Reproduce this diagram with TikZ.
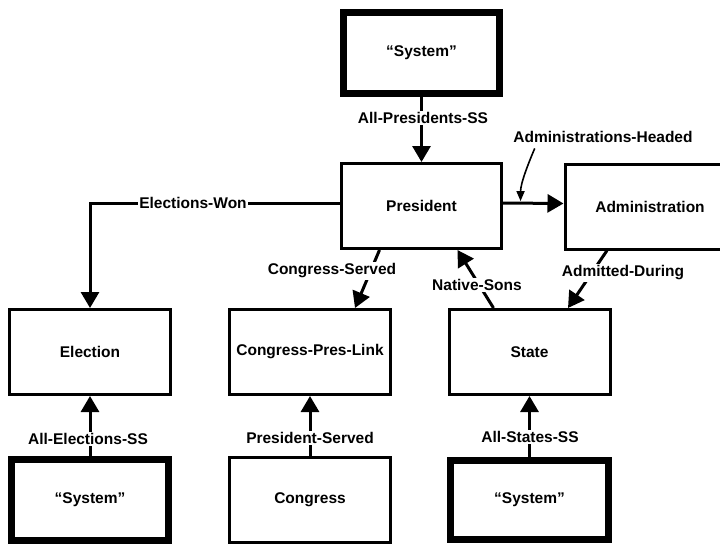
\documentclass[tikz,border=0pt]{standalone}
\usepackage{fontspec}
\setmainfont{Liberation Sans}
\usetikzlibrary{arrows.meta,calc}
\tikzset{
  box/.style={draw, line width=3pt, minimum width=161pt, minimum height=85pt, inner sep=0pt, font=\bfseries\fontsize{15.5}{19}\selectfont},
  sysbox/.style={box, line width=7pt, minimum width=157pt, minimum height=81pt},
  lbl/.style={fill=white, inner sep=1.5pt, font=\bfseries\fontsize{15.5}{18}\selectfont},
  conn/.style={line width=3pt, -{Triangle[length=16pt,width=18pt]}},
  leader/.style={line width=1.6pt, -{Triangle[length=10pt,width=8pt]}}
}
\begin{document}
\begin{tikzpicture}[x=1pt,y=-1pt]
\useasboundingbox (0,0) rectangle (720,546);
\clip (0,0) rectangle (720,546);
% boxes
\node[sysbox, minimum width=156pt] (sysT) at (421.5,53) {“System”};
\node[box, minimum width=160pt] (pres) at (421.5,206) {President};
\node[box, minimum width=170pt] (admin) at (650,206.5) {Administration};
\node[box] (elec) at (90,352) {Election};
\node[box] (cpl) at (310,352) {Congress-Pres-Link};
\node[box] (state) at (529.5,352) {State};
\node[sysbox] (sysL) at (90,500) {“System”};
\node[box] (cong) at (310,500) {Congress};
\node[sysbox, minimum width=158pt, minimum height=79pt] (sysR) at (529.5,500) {“System”};
% connectors
\draw[conn] (sysT.south) -- (pres.north);
\node[lbl] (lapsss) at (423,118) {All-Presidents-SS};
\draw[conn] ([yshift=3pt]pres.east) -- coordinate[pos=0.29] (ahpt) ([yshift=3pt]admin.west);
\node[font=\bfseries\fontsize{15.5}{18}\selectfont, inner sep=1.5pt] (lah) at (603,137) {Administrations-Headed};
\draw[leader] ([xshift=23pt,yshift=-4pt]lah.south west) .. controls +(-6,14) and +(0,-18) .. ([yshift=2pt]ahpt);
\draw[conn] ([yshift=3pt]pres.west) -| (elec.north);
\node[lbl] (lew) at (193,203) {Elections-Won};
\draw[conn] ([xshift=-42pt]pres.south) -- ([xshift=45pt]cpl.north);
\node[lbl] (lcs) at (332,271) {Congress-Served};
\draw[conn] ([xshift=-36pt]state.north) -- ([xshift=36pt]pres.south);
\node[lbl] (lns) at (477,285) {Native-Sons};
\draw[conn] ([xshift=-43pt]admin.south) -- ([xshift=38.5pt]state.north);
\node[lbl] (lad) at (623,273) {Admitted-During};
\draw[conn] (sysL.north) -- (elec.south);
\node[lbl] (laes) at (88,439) {All-Elections-SS};
\draw[conn] (cong.north) -- (cpl.south);
\node[lbl] (lps) at (310,438) {President-Served};
\draw[conn] (sysR.north) -- (state.south);
\node[lbl] (lass) at (530,437) {All-States-SS};
\end{tikzpicture}
\end{document}
